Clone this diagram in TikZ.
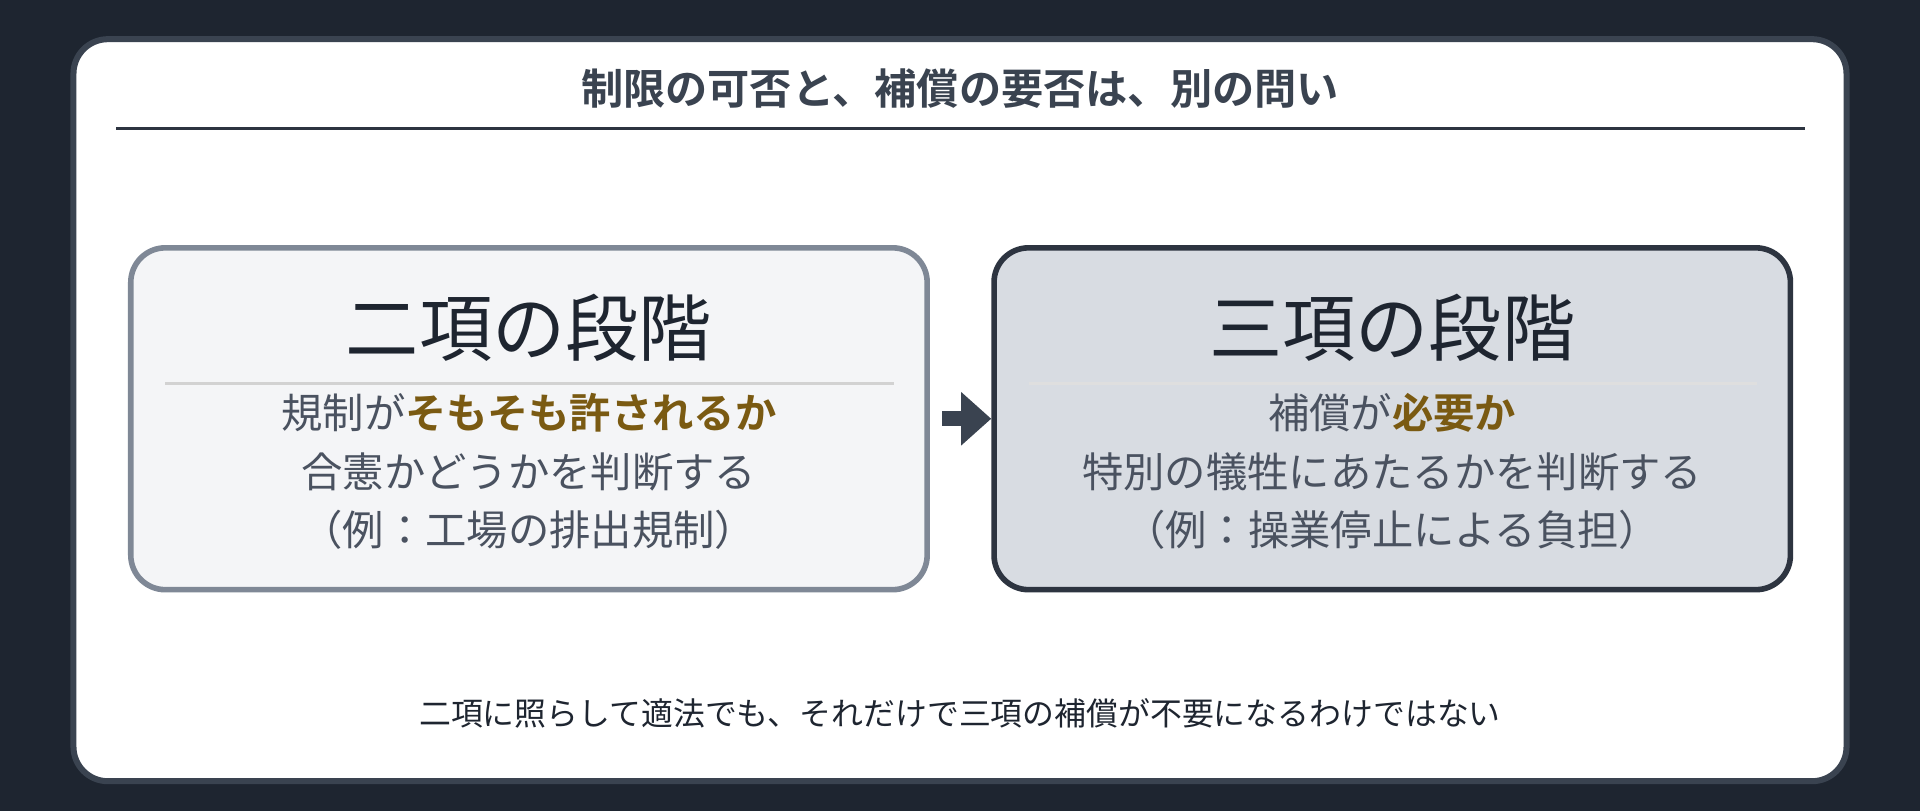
\documentclass[tikz,border=0pt]{standalone}
\usepackage{fontspec}
\setmainfont{Noto Sans CJK JP}[BoldFont={Noto Sans CJK JP Bold}]
\usetikzlibrary{positioning, arrows.meta}
\definecolor{bgdark}{HTML}{1E2530}
\definecolor{cardline}{HTML}{3A4350}
\definecolor{lightfill}{HTML}{F4F5F7}
\definecolor{lightline}{HTML}{7F8896}
\definecolor{darkfill}{HTML}{D8DCE2}
\definecolor{darkline}{HTML}{2D3440}
\definecolor{gold}{HTML}{7A5A12}
\definecolor{bodytext}{HTML}{4A5260}
\tikzset{
    stage/.style={rounded corners=8pt, line width=1.3pt, minimum width=6.5cm, minimum height=2.79cm}, % stage boxes
    head/.style={font=\fontsize{17}{20}\selectfont, text=bgdark},
    body/.style={font=\fontsize{9.6}{13.6}\selectfont, text=bodytext, align=center},
}
\newcommand{\hl}[1]{\textbf{\textcolor{gold}{#1}}}
\begin{document}
\begin{tikzpicture}[x=0.01cm, y=-0.01cm]
    \fill[bgdark] (0,0) rectangle (1568,662);
    \useasboundingbox (0,0) rectangle (1568,662);
    \draw[cardline, fill=white, line width=1.4pt, rounded corners=8pt] (60,32) rectangle (1508,638);
    \node[font=\bfseries\fontsize{9.8}{12}\selectfont, text=cardline] (title) at (784,72) {制限の可否と、補償の要否は、別の問い};
    \draw[darkline, line width=0.7pt] (95,105) -- (1474,105);
    % the two stages
    \node[stage, draw=lightline, fill=lightfill] (two) at (432,342) {};
    \node[stage, draw=darkline, fill=darkfill] (three) at (1137,342) {};
    \node[head] (twohead) at (432,268) {二項の段階};
    \node[head] (threehead) at (1137,268) {三項の段階};
    \draw[gray!35, line width=0.7pt] (135,313) -- (730,313);
    \draw[gray!25, line width=0.7pt] (840,313) -- (1435,313);
    \node[body] (twotext) at (432,385) {規制が\hl{そもそも許されるか}\\合憲かどうかを判断する\\（例：工場の排出規制）};
    \node[body] (threetext) at (1137,385) {補償が\hl{必要か}\\特別の犠牲にあたるかを判断する\\（例：操業停止による負担）};
    \draw[cardline, line width=3.5pt, -{Triangle[length=7pt,width=12pt]}] ([xshift=0.1cm]two.east) -- (three.west);
    \node[font=\fontsize{7.4}{9}\selectfont, text=bgdark] (note) at (784,583) {二項に照らして適法でも、それだけで三項の補償が不要になるわけではない};
\end{tikzpicture}
\end{document}
